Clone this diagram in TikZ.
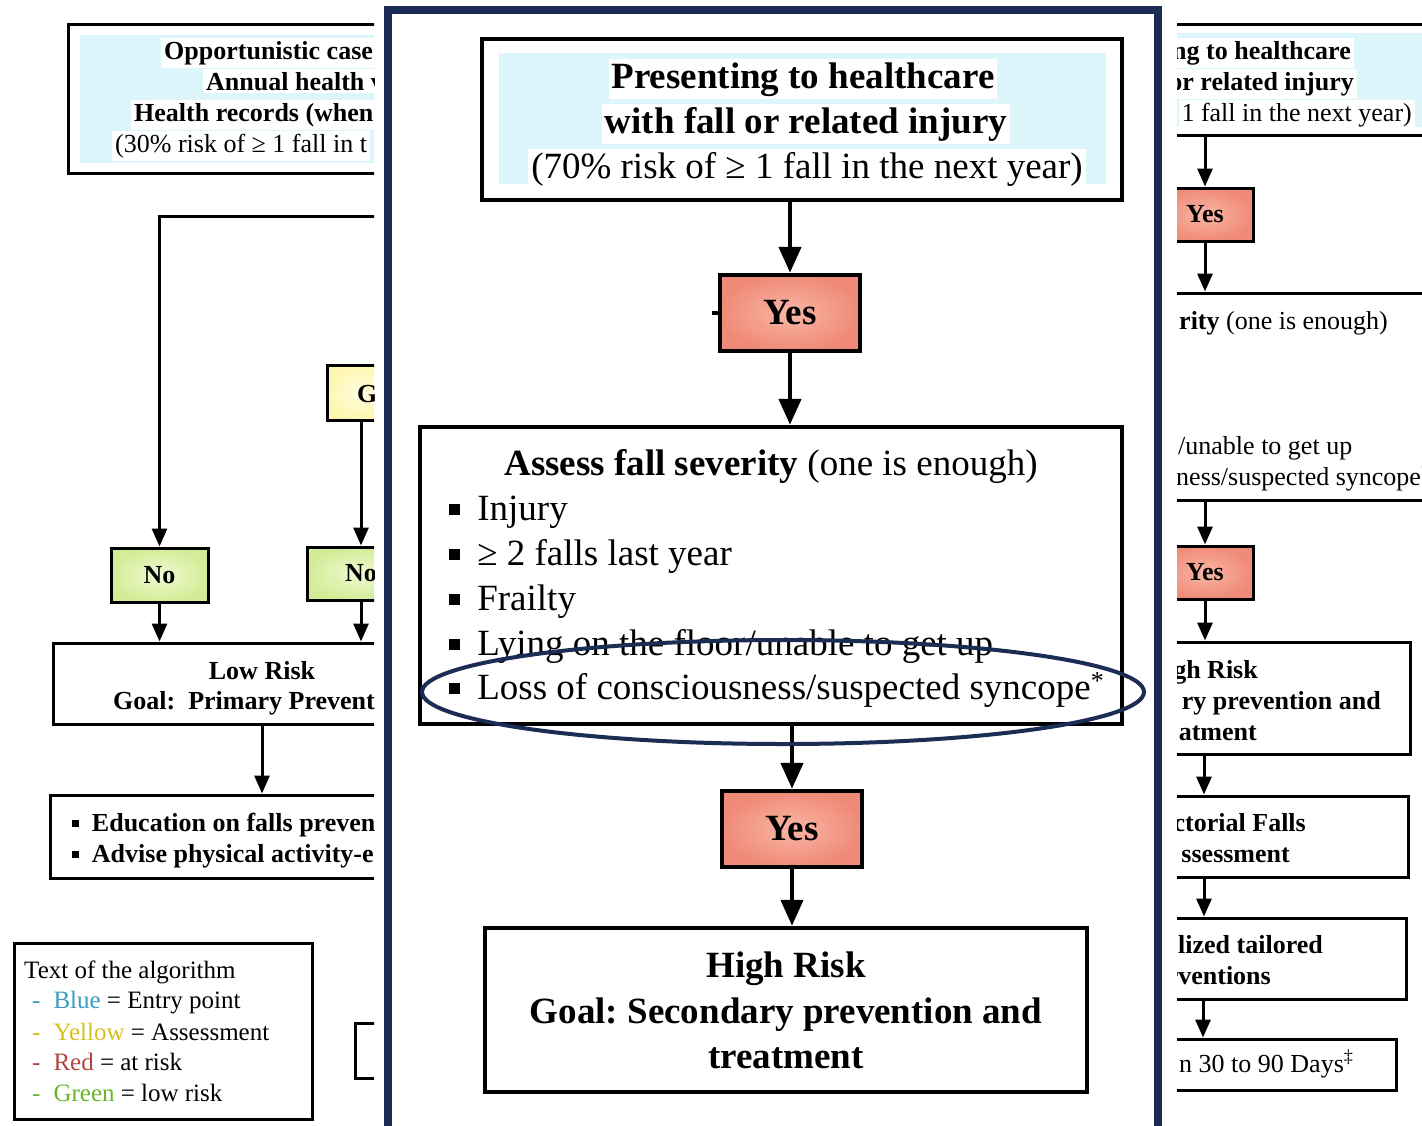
\documentclass[tikz,border=0pt]{standalone}
\usepackage{fontspec}
\setmainfont{Liberation Serif}
\usetikzlibrary{arrows.meta}
\frenchspacing

\definecolor{navy}{HTML}{1B2D54}
\definecolor{entryblue}{HTML}{DDF6FB}
\definecolor{riskredin}{HTML}{F9B6A6}
\definecolor{riskredout}{HTML}{F08A78}
\definecolor{lowgreenin}{HTML}{F0FAD2}
\definecolor{lowgreenout}{HTML}{D3EC98}
\definecolor{askyellowin}{HTML}{FFFDE0}
\definecolor{askyellowout}{HTML}{FFF6B0}
\definecolor{legblue}{HTML}{3B9CC4}
\definecolor{legyellow}{HTML}{D6C21C}
\definecolor{legred}{HTML}{B4473D}
\definecolor{leggreen}{HTML}{6BB52D}

\newcommand\bigtext{\fontsize{37}{45}\selectfont}
\newcommand\sidetext{\fontsize{26}{31}\selectfont}
\newcommand\legtext{\fontsize{25}{31}\selectfont}
\newcommand\sqbullet{\rule[0.14em]{0.28em}{0.28em}\hspace{0.48em}}

\begin{document}
\begin{tikzpicture}[x=1pt,y=-1pt,
  bigbox/.style={draw, line width=4.5pt, inner sep=0pt},
  sidebox/.style={draw, line width=3pt, inner sep=0pt},
  yesbig/.style={bigbox, inner color=riskredin, outer color=riskredout, font=\bigtext\bfseries},
  yesside/.style={sidebox, inner color=riskredin, outer color=riskredout, font=\sidetext\bfseries},
  nobox/.style={sidebox, inner color=lowgreenin, outer color=lowgreenout, font=\sidetext\bfseries},
  askbox/.style={sidebox, inner color=askyellowin, outer color=askyellowout},
  lbl/.style={inner sep=0pt},
  halo/.style={fill=white, inner sep=3pt},
  bigarrow/.style={line width=4.5pt, -{Triangle[length=26pt,width=22pt]}},
  sidearrow/.style={line width=3pt, -{Triangle[length=18pt,width=15pt]}},
  sideline/.style={line width=3pt},
]
\fill[white] (0,0) rectangle (1422,1125);
\useasboundingbox (0,0) rectangle (1422,1125);

% ---------- left column (low-risk branch), cut by the panel ----------
\begin{scope}
\clip (0,0) rectangle (374,1125);
\node[sidebox, minimum width=632pt, minimum height=149pt] (ltop) at (384,98.5) {};
\fill[entryblue] (80,35) rectangle (690,163);
\node[halo, anchor=base west, font=\sidetext\bfseries] (ltop1) at (161,59) {Opportunistic case};
\node[halo, anchor=base west, font=\sidetext\bfseries] (ltop2) at (203,90) {Annual health v};
\node[halo, anchor=base west, font=\sidetext\bfseries] (ltop3) at (131,121) {Health records (when};
\node[halo, anchor=base west, font=\sidetext] (ltop4) at (112,152) {(30\% risk of ≥ 1 fall in t};

\coordinate (lfork) at (420,216);
\node[nobox, minimum width=97pt, minimum height=54pt] (no1) at (159.5,575) {No};
\draw[sidearrow] (lfork) -| (no1.north);

\node[askbox, minimum width=68pt, minimum height=55pt] (gbox) at (361,392.5) {};
\node[lbl, anchor=base west, font=\sidetext\bfseries] (gtext) at (357,402) {G};
\node[nobox, minimum width=108pt, minimum height=53pt] (no2) at (361,573.5) {No};
\draw[sidearrow] (gbox.south) -- (no2.north);

\node[sidebox, minimum width=418pt, minimum height=81pt] (low) at (262,683.5) {};
\draw[sidearrow] (no1.south) -- (no1.south |- low.north);
\draw[sidearrow] (no2.south) -- (no2.south |- low.north);
\node[lbl, anchor=base, font=\sidetext\bfseries] (low1) at (262,679) {Low Risk};
\node[lbl, anchor=base west, font=\sidetext\bfseries] (low2) at (113,709) {Goal:\ \ Primary Prevent};

\node[sidebox, minimum width=424pt, minimum height=83pt] (edu) at (262,836.5) {};
\draw[sidearrow] (low.south) -- (edu.north);
\node[lbl, anchor=base west, font=\sidetext\bfseries] (edu1) at (72,831) {\sqbullet Education on falls preven};
\node[lbl, anchor=base west, font=\sidetext\bfseries] (edu2) at (72,862) {\sqbullet Advise physical activity-e};

\node[sidebox, minimum width=90pt, minimum height=55pt] (stub) at (400,1050.5) {};
\end{scope}

% ---------- colour legend ----------
\node[sidebox, minimum width=298pt, minimum height=176pt] (legend) at (163,1031) {};
\node[lbl, anchor=base west, font=\legtext] (leg0) at (24,978) {Text of the algorithm};
\node[lbl, anchor=base west, font=\legtext] (leg1) at (32,1008) {\textcolor{legblue}{-}\hspace{13pt}\textcolor{legblue}{Blue} = Entry point};
\node[lbl, anchor=base west, font=\legtext] (leg2) at (32,1040) {\textcolor{legyellow}{-}\hspace{13pt}\textcolor{legyellow}{Yellow} = Assessment};
\node[lbl, anchor=base west, font=\legtext] (leg3) at (32,1070) {\textcolor{legred}{-}\hspace{13pt}\textcolor{legred}{Red} = at risk};
\node[lbl, anchor=base west, font=\legtext] (leg4) at (32,1101) {\textcolor{leggreen}{-}\hspace{13pt}\textcolor{leggreen}{Green} = low risk};

% ---------- right column (high-risk branch), cut by the panel ----------
\begin{scope}
\clip (1177,0) rectangle (1422,1125);
\node[sidebox, minimum width=350pt, minimum height=111pt] (rtop) at (1275,79.5) {};
\fill[entryblue] (1090,33) rectangle (1440,127);
\node[halo, anchor=base east, font=\sidetext\bfseries] (rtop1) at (1354,59) {ng to healthcare};
\node[halo, anchor=base east, font=\sidetext\bfseries] (rtop2) at (1357,90) {or related injury};
\node[halo, anchor=base east, font=\sidetext] (rtop3) at (1415,121) {1 fall in the next year)};

\node[yesside, minimum width=96pt, minimum height=53pt] (ryes1) at (1205,214.5) {Yes};
\draw[sidearrow] (ryes1.north |- rtop.south) -- (ryes1.north);

\node[sidebox, minimum width=350pt, minimum height=207pt] (rassess) at (1275,396.5) {};
\draw[sidearrow] (ryes1.south) -- (ryes1.south |- rassess.north);
\node[lbl, anchor=base west, font=\sidetext] (ras1) at (1179,329) {\textbf{rity} (one is enough)};
\node[lbl, anchor=base west, font=\sidetext] (ras2) at (1178,454) {/unable to get up};
\node[lbl, anchor=base west, font=\sidetext] (ras3) at (1176,485) {ness/suspected syncope\textsuperscript{*}};

\node[yesside, minimum width=96pt, minimum height=53pt] (ryes2) at (1205,572.5) {Yes};
\draw[sidearrow] (ryes2.north |- rassess.south) -- (ryes2.north);

\node[sidebox, minimum width=410pt, minimum height=112pt] (rhigh) at (1205,698) {};
\draw[sidearrow] (ryes2.south) -- (ryes2.south |- rhigh.north);
\node[lbl, anchor=base east, font=\sidetext\bfseries] (rhi1) at (1258,678) {gh Risk};
\node[lbl, anchor=base east, font=\sidetext\bfseries] (rhi2) at (1381,709) {ry prevention and};
\node[lbl, anchor=base east, font=\sidetext\bfseries] (rhi3) at (1257,740) {atment};

\node[sidebox, minimum width=408pt, minimum height=81pt] (rmfa) at (1204,836.5) {};
\draw[sidearrow] (rmfa.north |- rhigh.south) -- (rmfa.north);
\node[lbl, anchor=base east, font=\sidetext\bfseries] (rmf1) at (1306,831) {ctorial Falls};
\node[lbl, anchor=base east, font=\sidetext\bfseries] (rmf2) at (1290,862) {ssessment};

\node[sidebox, minimum width=406pt, minimum height=81pt] (rtail) at (1203,958.5) {};
\draw[sidearrow] (rmfa.south) -- (rmfa.south |- rtail.north);
\node[lbl, anchor=base east, font=\sidetext\bfseries] (rta1) at (1323,953) {lized tailored};
\node[lbl, anchor=base east, font=\sidetext\bfseries] (rta2) at (1271,984) {rventions};

\node[sidebox, minimum width=396pt, minimum height=51pt] (rfollow) at (1198,1064.5) {};
\draw[sidearrow] (rtail.south) -- (rtail.south |- rfollow.north);
\node[lbl, anchor=base west, font=\sidetext] (rfo1) at (1179,1072) {n 30 to 90 Days\textsuperscript{‡}};
\end{scope}

% ---------- enlarged central panel ----------
\draw[navy, line width=8pt] (388,10) rectangle (1157.5,1150);

\node[bigbox, minimum width=640pt, minimum height=161pt] (top) at (802,119.5) {};
\fill[entryblue] (499,53) rectangle (1106,184);
\node[halo, anchor=base, font=\bigtext\bfseries] (top1) at (803,88) {Presenting to healthcare};
\node[halo, anchor=base, font=\bigtext\bfseries] (top2) at (806,133) {with fall or related injury};
\node[halo, anchor=base, font=\bigtext] (top3) at (807,178) {(70\% risk of ≥ 1 fall in the next year)};

\node[yesbig, minimum width=140pt, minimum height=76pt] (yes1) at (790,313) {Yes};
\draw[bigarrow] (yes1.north |- top.south) -- (yes1.north);
\draw[line width=4pt] (yes1.west) -- ++(-6,0);

\node[bigbox, minimum width=702pt, minimum height=297pt] (assess) at (771,575.5) {};
\draw[bigarrow] (yes1.south) -- (yes1.south |- assess.north);
\node[lbl, anchor=base, font=\bigtext] (as0) at (771,475) {\textbf{Assess fall severity} (one is enough)};
\node[lbl, anchor=base west, font=\bigtext] (as1) at (449,520) {\sqbullet Injury};
\node[lbl, anchor=base west, font=\bigtext] (as2) at (449,565) {\sqbullet ≥ 2 falls last year};
\node[lbl, anchor=base west, font=\bigtext] (as3) at (449,610) {\sqbullet Frailty};
\node[lbl, anchor=base west, font=\bigtext] (as4) at (449,655) {\sqbullet Lying on the floor/unable to get up};
\node[lbl, anchor=base west, font=\bigtext] (as5) at (449,699) {\sqbullet Loss of consciousness/suspected syncope\textsuperscript{*}};

\node[yesbig, minimum width=140pt, minimum height=76pt] (yes2) at (792,829) {Yes};
\draw[bigarrow] (yes2.north |- assess.south) -- (yes2.north);

\node[bigbox, minimum width=602pt, minimum height=164pt] (high) at (786,1010) {};
\draw[bigarrow] (yes2.south) -- (yes2.south |- high.north);
\node[lbl, anchor=base, font=\bigtext\bfseries] (hi1) at (786,977) {High Risk};
\node[lbl, anchor=base, font=\bigtext\bfseries] (hi2) at (786,1023) {Goal: Secondary prevention and};
\node[lbl, anchor=base, font=\bigtext\bfseries] (hi3) at (786,1068) {treatment};

% highlight ring around the syncope criterion
\draw[navy, line width=4pt] (783,692) ellipse [x radius=361, y radius=52];
\end{tikzpicture}
\end{document}
